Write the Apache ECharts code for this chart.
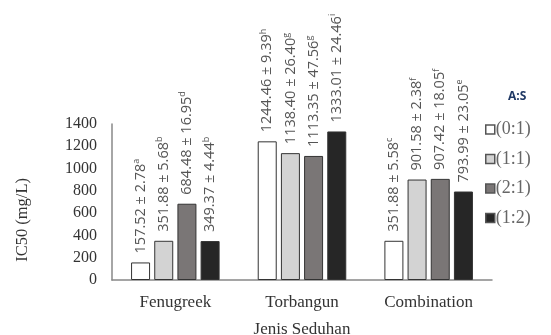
<!DOCTYPE html>
<html>
<head>
<meta charset="utf-8">
<script src="https://cdn.jsdelivr.net/npm/echarts@6/dist/echarts.min.js"></script>
<style>
  html, body { margin: 0; padding: 0; background: #fff; }
  #chart { width: 551px; height: 335px; }
</style>
</head>
<body>
<div id="chart"></div>
<script>
// Brew types on the category axis
const categories = ['Fenugreek', 'Torbangun', 'Combination'];
const ratioNames = ['(0:1)', '(1:1)', '(2:1)', '(1:2)'];

// IC50 means (mg/L) per A:S ratio
const ratio01 = [157.52, 1244.46, 351.88];
const ratio11 = [351.88, 1138.40, 901.58];
const ratio21 = [684.48, 1113.35, 907.42];
const ratio12 = [349.37, 1333.01, 793.99];

// Standard deviations
const sd01 = [2.78, 9.39, 5.58];
const sd11 = [5.68, 26.40, 2.38];
const sd21 = [16.95, 47.56, 18.05];
const sd12 = [4.44, 24.46, 23.05];

// Significance letters
const sig01 = ['a', 'h', 'c'];
const sig11 = ['b', 'g', 'f'];
const sig21 = ['d', 'g', 'f'];
const sig12 = ['b', 'i', 'e'];

const yTicks = [0, 200, 400, 600, 800, 1000, 1200, 1400];

const fills = ['#ffffff', '#d3d3d3', '#7a7676', '#262626'];
const values = [ratio01, ratio11, ratio21, ratio12];
const sds = [sd01, sd11, sd21, sd12];
const sigs = [sig01, sig11, sig21, sig12];

const serif = '"Liberation Serif", "DejaVu Serif", serif';
const sans = '"Open Sans", "Noto Sans", sans-serif';

const series = ratioNames.map((name, k) => ({
  name: name,
  type: 'bar',
  barWidth: 19,
  barGap: '22%',
  data: values[k],
  itemStyle: { color: fills[k], borderColor: '#333', borderWidth: 1 },
  label: {
    show: true,
    position: 'top',
    rotate: 90,
    align: 'left',
    verticalAlign: 'middle',
    distance: 9,
    formatter: p => '{v|' + p.value.toFixed(2) + ' ± ' + sds[k][p.dataIndex].toFixed(2) + '}{s|' + sigs[k][p.dataIndex] + '}',
    rich: {
      v: { fontFamily: sans, fontSize: 14.5, color: '#555' },
      s: { fontFamily: sans, fontSize: 9, color: '#555', verticalAlign: 'top', padding: [0, 0, 8, 0] }
    }
  },
  // keep tall labels inside the canvas, pushing them down over their bar
  labelLayout: params => {
    const r = params.labelRect;
    return r.y < 10 ? { dy: 10 - r.y } : {};
  }
}));

const chart = echarts.init(document.getElementById('chart'), null, { renderer: 'canvas' });
chart.setOption({
  animation: false,
  backgroundColor: '#fff',
  grid: { left: 112, right: 59, top: 124, bottom: 55, containLabel: false, outerBoundsMode: 'none' },
  legend: {
    orient: 'vertical',
    left: 480,
    top: 115,
    itemWidth: 9,
    itemHeight: 9,
    itemGap: 10.5,
    icon: 'rect',
    data: ratioNames.map(n => ({ name: n, itemStyle: { borderColor: '#555', borderWidth: 1.5 } })),
    textStyle: { fontFamily: serif, fontSize: 18, lineHeight: 19, color: '#666', padding: [0, 0, 0, -4] }
  },
  title: {
    text: 'A:S',
    left: 503,
    top: 86,
    textStyle: { fontFamily: sans, fontSize: 12, fontWeight: 'bold', color: '#1f3864' }
  },
  graphic: [{
    type: 'text',
    left: 14,
    top: 178,
    style: { text: 'IC50 (mg/L)', fontFamily: serif, fontSize: 16.5, fill: '#333' },
    rotation: Math.PI / 2
  }],
  xAxis: {
    type: 'category',
    data: categories,
    name: 'Jenis Seduhan',
    nameLocation: 'middle',
    nameGap: 41,
    nameTextStyle: { fontFamily: serif, fontSize: 17, color: '#333' },
    axisLine: { lineStyle: { color: '#888', width: 1.5 } },
    axisTick: { show: false },
    axisLabel: { fontFamily: serif, fontSize: 17, color: '#333', margin: 14 }
  },
  yAxis: {
    type: 'value',
    min: 0,
    max: 1400,
    interval: 200,
    axisLine: { show: true, lineStyle: { color: '#888', width: 1.5 } },
    axisTick: { show: false },
    splitLine: { show: false },
    axisLabel: {
      fontFamily: serif, fontSize: 16, color: '#333', margin: 15,
      formatter: v => yTicks.includes(v) ? String(v) : ''
    }
  },
  series: series
});
</script>
</body>
</html>
